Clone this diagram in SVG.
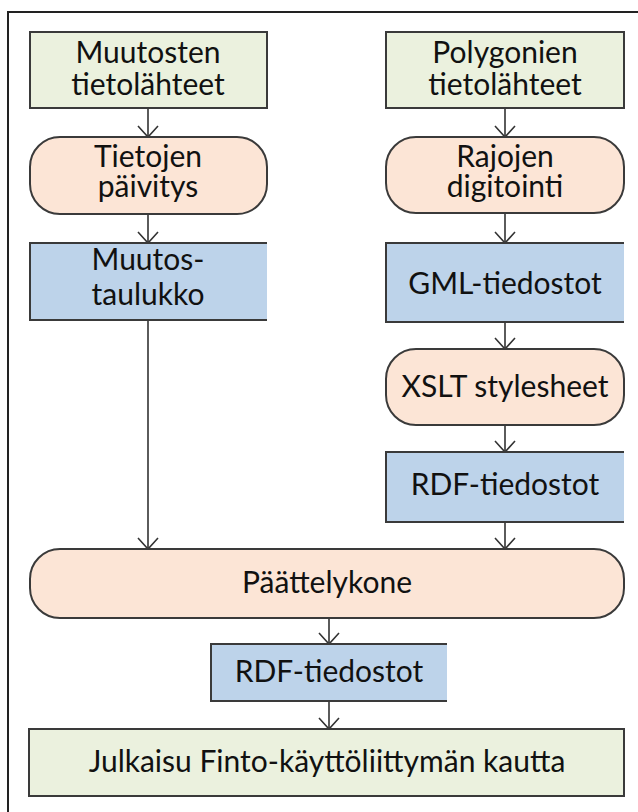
<svg xmlns="http://www.w3.org/2000/svg" width="638" height="812" viewBox="0 0 638 812">
<defs>
<style>
.g{fill:#EBF1DE;stroke:#3a3a3a;stroke-width:2}
.o{fill:#FCE5D6;stroke:#3a3a3a;stroke-width:2}
.b{fill:#BDD3EA;stroke:#3a3a3a;stroke-width:2}
.t{font-family:Lato,"Open Sans",sans-serif;font-size:30px;fill:#111;text-anchor:middle}
.c line,.c path{stroke:#333;stroke-width:1.6;fill:none}
</style>
<marker id="v" viewBox="0 0 20 12" refX="10" refY="11" markerWidth="20" markerHeight="12" markerUnits="userSpaceOnUse" orient="auto-start-reverse">
<path d="M0,0 L10,11 L20,0" fill="none" stroke="#333" stroke-width="1.6"/>
</marker>
</defs>
<rect x="0" y="0" width="638" height="812" fill="#fff"/>
<path d="M8,812 V12 H638" fill="none" stroke="#222" stroke-width="2"/>
<g class="c" id="connectors">
<path d="M148,108 V137"/><path d="M138,126 L148,137 L158,126"/>
<path d="M148,214 V243"/><path d="M138,232 L148,243 L158,232"/>
<path d="M148,320 V549"/><path d="M138,538 L148,549 L158,538"/>
<path d="M505,108 V137"/><path d="M495,126 L505,137 L515,126"/>
<path d="M505,213 V243"/><path d="M495,232 L505,243 L515,232"/>
<path d="M505,322 V349"/><path d="M495,338 L505,349 L515,338"/>
<path d="M505,425 V452"/><path d="M495,441 L505,452 L515,441"/>
<path d="M505,522 V549"/><path d="M495,538 L505,549 L515,538"/>
<path d="M329,618 V644"/><path d="M319,633 L329,644 L339,633"/>
<path d="M329,701 V729"/><path d="M319,718 L329,729 L339,718"/>
</g>
<g id="muutosten">
<rect class="g" x="30" y="32" width="237" height="76"/>
<text class="t" x="148" y="63">Muutosten</text>
<text class="t" x="148" y="95">tietolähteet</text>
</g>
<g id="tietojen">
<rect class="o" x="30" y="137" width="237" height="77" rx="30"/>
<text class="t" x="148" y="167">Tietojen</text>
<text class="t" x="148" y="197">päivitys</text>
</g>
<g id="muutostaulukko">
<rect x="30" y="243" width="237" height="77" fill="#BDD3EA"/>
<path d="M267,243 H30 V320 H267" fill="none" stroke="#3a3a3a" stroke-width="2"/>
<text class="t" x="148" y="270">Muutos-</text>
<text class="t" x="148" y="305">taulukko</text>
</g>
<g id="polygonien">
<rect class="g" x="386" y="32" width="238" height="76"/>
<text class="t" x="505" y="63">Polygonien</text>
<text class="t" x="505" y="95">tietolähteet</text>
</g>
<g id="rajojen">
<rect class="o" x="386" y="137" width="238" height="76" rx="30"/>
<text class="t" x="505" y="167">Rajojen</text>
<text class="t" x="505" y="197">digitointi</text>
</g>
<g id="gml">
<rect x="386" y="243" width="238" height="79" fill="#BDD3EA"/>
<path d="M624,243 H386 V322 H624" fill="none" stroke="#3a3a3a" stroke-width="2"/>
<text class="t" x="505" y="294">GML-tiedostot</text>
</g>
<g id="xslt">
<rect class="o" x="386" y="349" width="238" height="76" rx="30"/>
<text class="t" x="505" y="397">XSLT stylesheet</text>
</g>
<g id="rdf1">
<rect x="386" y="452" width="238" height="70" fill="#BDD3EA"/>
<path d="M624,452 H386 V522 H624" fill="none" stroke="#3a3a3a" stroke-width="2"/>
<text class="t" x="505" y="495">RDF-tiedostot</text>
</g>
<g id="paattelykone">
<rect class="o" x="30" y="549" width="594" height="69" rx="30"/>
<text class="t" x="327" y="593">Päättelykone</text>
</g>
<g id="rdf2">
<rect x="211" y="644" width="236" height="57" fill="#BDD3EA"/>
<path d="M447,644 H211 V701 H447" fill="none" stroke="#3a3a3a" stroke-width="2"/>
<text class="t" x="329" y="682">RDF-tiedostot</text>
</g>
<g id="julkaisu">
<rect class="g" x="29" y="729" width="595" height="67"/>
<text class="t" x="327" y="772">Julkaisu Finto-käyttöliittymän kautta</text>
</g>
</svg>
